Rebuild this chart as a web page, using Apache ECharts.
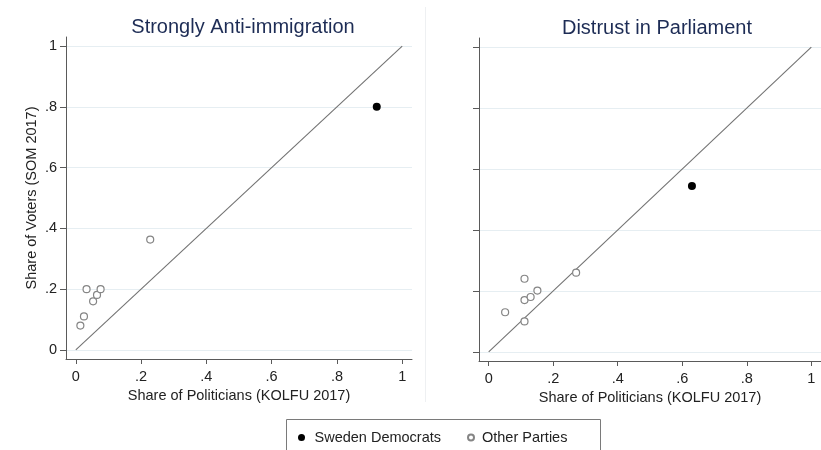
<!DOCTYPE html>
<html>
<head>
<meta charset="utf-8">
<script src="https://cdn.jsdelivr.net/npm/echarts@6/dist/echarts.min.js"></script>
<style>
  html, body { margin: 0; padding: 0; background: #fff; }
  #chart { width: 821px; height: 450px; }
</style>
</head>
<body>
<div id="chart"></div>
<script>
// Panel titles and axis text
const panelTitles = ['Strongly Anti-immigration', 'Distrust in Parliament'];
const xAxisTitle = 'Share of Politicians (KOLFU 2017)';
const yAxisTitle = 'Share of Voters (SOM 2017)';
const tickValues = [0, 0.2, 0.4, 0.6, 0.8, 1];

// Series names
const sdName = 'Sweden Democrats';
const otherName = 'Other Parties';

// Strongly anti-immigration: [share of politicians, share of voters]
const antiImmSD = [[0.922, 0.800]];
const antiImmOthers = [
  [0.014, 0.080], [0.025, 0.110], [0.033, 0.200], [0.053, 0.160],
  [0.065, 0.181], [0.076, 0.200], [0.228, 0.363]
];

// Distrust in parliament: [share of politicians, share of voters]
const distrustSD = [[0.630, 0.544]];
const distrustOthers = [
  [0.051, 0.130], [0.111, 0.100], [0.111, 0.170], [0.111, 0.240],
  [0.130, 0.180], [0.151, 0.201], [0.271, 0.260]
];

// 45-degree parity line
const parityLine = [[0, 0], [1, 1]];

const FONT = '"Liberation Sans", Arial, sans-serif';
const AXIS_COLOR = '#5a5a5a';
const GRID_COLOR = '#e6eef2';
const SMALL = 14.5;

function tickLabel(v) {
  if (v === 0) return '0';
  if (v === 1) return '1';
  return String(+v.toFixed(1)).replace(/^0/, '');
}

function xAxis(gridIndex) {
  return {
    type: 'value', gridIndex: gridIndex, min: -0.03, max: 1.03,
    name: xAxisTitle, nameLocation: 'middle', nameGap: 24,
    nameTextStyle: { color: '#222', fontSize: SMALL, fontFamily: FONT },
    axisLine: { show: true, onZero: false, lineStyle: { color: AXIS_COLOR, width: 1 } },
    axisTick: { show: true, length: 5, customValues: tickValues, lineStyle: { color: AXIS_COLOR } },
    axisLabel: { customValues: tickValues, formatter: tickLabel, margin: 10,
      color: '#222', fontSize: SMALL, fontFamily: FONT },
    splitLine: { show: false }
  };
}

function yAxis(gridIndex, withLabels) {
  return {
    type: 'value', gridIndex: gridIndex, min: -0.03, max: 1.03,
    name: withLabels ? yAxisTitle : '', nameLocation: 'middle', nameGap: 27,
    nameTextStyle: { color: '#222', fontSize: SMALL, fontFamily: FONT },
    axisLine: { show: true, onZero: false, lineStyle: { color: AXIS_COLOR, width: 1 } },
    axisTick: { show: true, length: 6, customValues: tickValues, lineStyle: { color: AXIS_COLOR } },
    axisLabel: { show: withLabels, customValues: tickValues, formatter: tickLabel, margin: 9,
      color: '#222', fontSize: SMALL, fontFamily: FONT },
    splitLine: { show: true, lineStyle: { color: GRID_COLOR, width: 1 } }
  };
}

function sdSeries(idx, data) {
  return {
    name: sdName, type: 'scatter', xAxisIndex: idx, yAxisIndex: idx, data: data,
    symbol: 'circle', symbolSize: 8, z: 4,
    itemStyle: { color: '#000', borderColor: '#000', borderWidth: 0, opacity: 1 }
  };
}

function otherSeries(idx, data) {
  return {
    name: otherName, type: 'scatter', xAxisIndex: idx, yAxisIndex: idx, data: data,
    symbol: 'circle', symbolSize: 7, z: 4,
    itemStyle: { color: '#fff', borderColor: '#858585', borderWidth: 1.2, opacity: 1 }
  };
}

function paritySeries(idx) {
  return {
    type: 'line', xAxisIndex: idx, yAxisIndex: idx, data: parityLine,
    symbol: 'none', silent: true, z: 3,
    lineStyle: { color: '#727272', width: 1.1 }
  };
}

const chart = echarts.init(document.getElementById('chart'), null, { renderer: 'canvas' });

chart.setOption({
  backgroundColor: '#fff',
  animation: false,
  textStyle: { fontFamily: FONT },
  title: [
    { text: panelTitles[0], left: 238, top: 12, textAlign: 'center',
      textStyle: { color: '#1d2c55', fontSize: 20, fontWeight: 'normal', fontFamily: FONT } },
    { text: panelTitles[1], left: 652, top: 13, textAlign: 'center',
      textStyle: { color: '#1d2c55', fontSize: 20, fontWeight: 'normal', fontFamily: FONT } }
  ],
  grid: [
    { left: 66, top: 37, width: 346, height: 322 },
    { left: 479, top: 38, width: 347, height: 323 }
  ],
  xAxis: [xAxis(0), xAxis(1)],
  yAxis: [yAxis(0, true), yAxis(1, false)],
  legend: [
    { data: [sdName], left: 298, top: 430, padding: 0, itemWidth: 16, itemHeight: 7,
      icon: 'circle', selectedMode: false,
      textStyle: { color: '#222', fontSize: SMALL, fontFamily: FONT } },
    { data: [otherName], left: 467, top: 430, padding: 0, itemWidth: 12, itemHeight: 6,
      icon: 'circle', selectedMode: false,
      textStyle: { color: '#222', fontSize: SMALL, fontFamily: FONT } }
  ],
  graphic: [
    { type: 'line', silent: true, z: -1,
      shape: { x1: 425.5, y1: 7, x2: 425.5, y2: 402 },
      style: { stroke: '#eef0f2', lineWidth: 1 } },
    { type: 'rect', silent: true,
      shape: { x: 286.5, y: 419.5, width: 314, height: 40 },
      style: { fill: 'none', stroke: '#7a7a7a', lineWidth: 1 } }
  ],
  series: [
    paritySeries(0), otherSeries(0, antiImmOthers), sdSeries(0, antiImmSD),
    paritySeries(1), otherSeries(1, distrustOthers), sdSeries(1, distrustSD)
  ]
});
</script>
</body>
</html>
